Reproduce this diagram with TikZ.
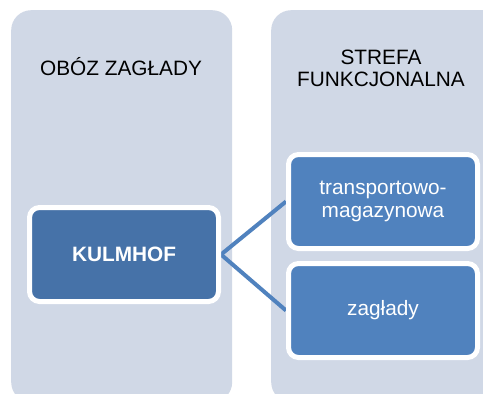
\documentclass[tikz,border=0pt]{standalone}
\usepackage{fontspec}
\setmainfont{Liberation Sans}
\definecolor{colbg}{RGB}{208,216,230}
\definecolor{boxdark}{RGB}{70,114,168}
\definecolor{boxlight}{RGB}{80,130,190}
\pgfdeclarelayer{back}
\pgfdeclarelayer{mid}
\pgfsetlayers{back,mid,main}
\tikzset{
  column/.style={fill=colbg, rounded corners=20pt, anchor=north west, inner sep=0pt},
  title/.style={font=\fontsize{20.8}{22}\selectfont, text=black, align=center, inner sep=0pt},
  box/.style={draw=white, line width=5pt, rounded corners=10pt, minimum width=189pt, minimum height=94pt, text=white, align=center, font=\fontsize{20.8}{23}\selectfont, inner sep=0pt},
  link/.style={draw=boxlight, line width=4pt}
}
\begin{document}
\begin{tikzpicture}[x=1pt,y=-1pt]
\useasboundingbox (0,0) rectangle (483,394);
\clip (0,0) rectangle (483,394);
\begin{pgfonlayer}{back}
\fill[white] (0,0) rectangle (483,394);
\node[column, minimum width=221pt, minimum height=392pt] (colA) at (11,10) {};
\node[column, minimum width=232pt, minimum height=392pt] (colB) at (271,10) {};
\end{pgfonlayer}
\node[title, anchor=base] (titleA) at (121,75) {OBÓZ ZAGŁADY};
\node[title, anchor=base] (titleB1) at (381,64) {STREFA};
\node[title, anchor=base] (titleB2) at (381,86) {FUNKCJONALNA};
\node[box, fill=boxdark, font=\fontsize{20.8}{23}\selectfont\bfseries] (kul) at (124,254.5) {KULMHOF};
\node[box, fill=boxlight] (trans) at (383,201.5) {transportowo-\\magazynowa};
\node[box, fill=boxlight] (zag) at (383,310.5) {zagłady};
\begin{pgfonlayer}{mid}
\draw[link] (kul.east) -- (trans.west);
\draw[link] (kul.east) -- (zag.west);
\end{pgfonlayer}
\end{tikzpicture}
\end{document}
